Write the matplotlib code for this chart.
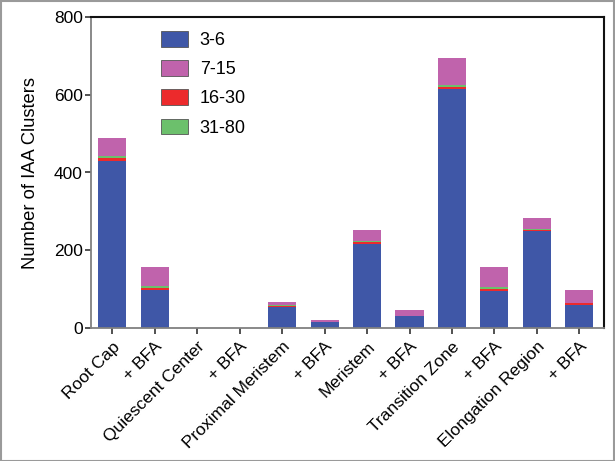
import matplotlib
matplotlib.use("Agg")
import matplotlib.pyplot as plt
from matplotlib.patches import Patch, Rectangle
import numpy as np

plt.rcParams['font.family'] = ['Liberation Sans', 'DejaVu Sans']

categories = ["Root Cap", "+ BFA", "Quiescent Center", "+ BFA", "Proximal Meristem", "+ BFA",
              "Meristem", "+ BFA", "Transition Zone", "+ BFA", "Elongation Region", "+ BFA"]
c3_6   = [430, 98, 0, 0, 55, 16, 216, 31, 614, 96, 249, 59]
c16_30 = [7, 5, 0, 0, 2, 0, 5, 1, 5, 4, 2, 5]
c31_80 = [5, 6, 0, 0, 1, 0, 2, 0, 5, 6, 4, 1]
c7_15  = [48, 49, 0, 0, 10, 5, 28, 14, 71, 50, 28, 33]

labels = ["3-6", "7-15", "16-30", "31-80"]
col_blue, col_pink, col_red, col_green = "#3F57A7", "#C063AC", "#EC2A2C", "#6CC06C"

W, H = 615, 461
fig = plt.figure(figsize=(W/100, H/100), dpi=100)
ax = fig.add_axes([91/W, 1-328/H, (604-91)/W, (328-17)/H])

x = np.arange(len(categories))
bw = 0.66
b1 = np.array(c3_6)
b2 = b1 + np.array(c16_30)
b3 = b2 + np.array(c31_80)
ax.bar(x, c3_6, bw, color=col_blue, linewidth=0)
ax.bar(x, c16_30, bw, bottom=b1, color=col_red, linewidth=0)
ax.bar(x, c31_80, bw, bottom=b2, color=col_green, linewidth=0)
ax.bar(x, c7_15, bw, bottom=b3, color=col_pink, linewidth=0)

ax.set_xlim(-0.5, 11.58)
ax.set_ylim(0, 800)
ax.set_yticks([0, 200, 400, 600, 800])
ax.set_xticks(x)
ax.set_xticklabels(categories, rotation=45, ha='right', rotation_mode='anchor', fontsize=12.5)
ax.tick_params(axis='both', direction='out', length=4, width=1.2, color='#333333', labelsize=12.5)
ax.tick_params(axis='y', pad=2)
ax.tick_params(axis='x', pad=4)
for s in ['left', 'bottom']:
    ax.spines[s].set_color('#808080')
    ax.spines[s].set_linewidth(1.3)
for s in ['top', 'right']:
    ax.spines[s].set_color('#111111')
    ax.spines[s].set_linewidth(1.5)

ax.set_ylabel("Number of IAA Clusters", fontsize=13.2, labelpad=11)

handles = [Patch(facecolor=c, edgecolor='#555555', linewidth=0.6) for c in [col_blue, col_pink, col_red, col_green]]
leg = ax.legend(handles, labels, loc='upper left', bbox_to_anchor=(161/W, 1-31/H),
                bbox_transform=fig.transFigure, frameon=False, fontsize=13,
                handlelength=1.5, handleheight=0.95, labelspacing=0.62,
                handletextpad=0.65, borderpad=0, borderaxespad=0)

fig.patches.append(Rectangle((0.5/W, 0.5/H), 1-2/W, 1-2/H, transform=fig.transFigure,
                             fill=False, edgecolor='#9a9a9a', linewidth=1.5))

fig.savefig("out.png", dpi=100)
